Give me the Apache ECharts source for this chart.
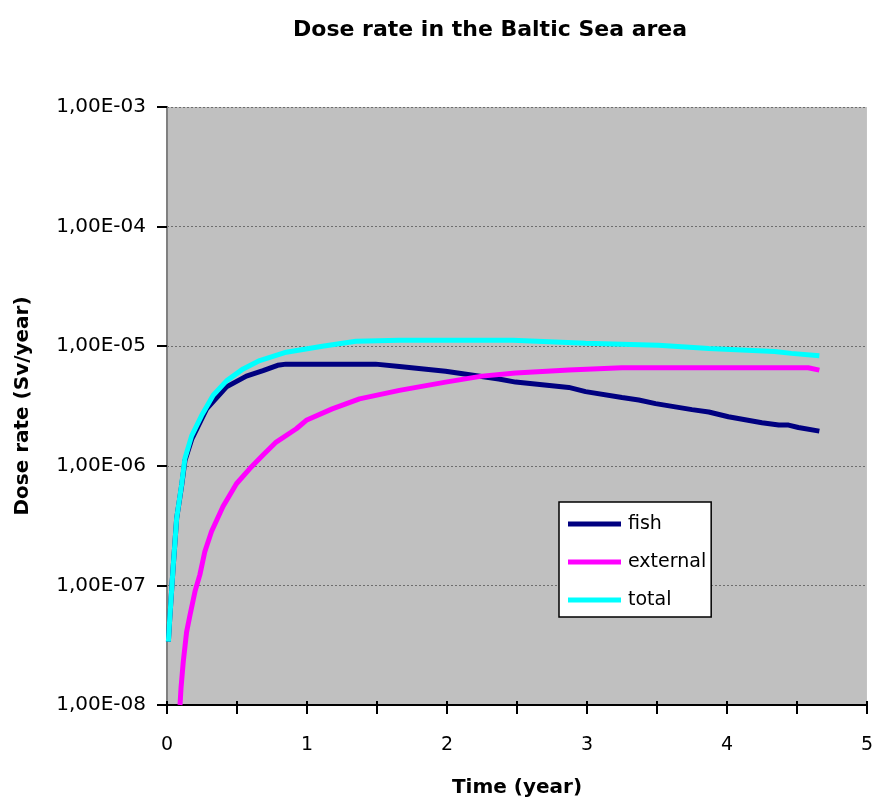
<!DOCTYPE html>
<html>
<head>
<meta charset="utf-8">
<script src="https://cdn.jsdelivr.net/npm/echarts@6/dist/echarts.min.js"></script>
<style>html,body{margin:0;padding:0;background:#fff}#c{width:876px;height:803px}</style>
</head>
<body>
<div id="c"></div>
<script>
var titleText = 'Dose rate in the Baltic Sea area';
var xName = 'Time (year)';
var yName = 'Dose rate (Sv/year)';
var seriesNames = ['fish', 'external', 'total'];

var fishX = [0.01,0.02,0.045,0.069,0.104,0.128,0.176,0.283,0.425,0.567,0.686,0.79,0.85,1.49,1.66,1.99,2.37,2.49,2.87,2.99,3.25,3.37,3.49,3.75,3.87,4.01,4.25,4.37,4.44,4.51,4.66];
var fishY = [3.39e-8,5.37e-8,1.48e-7,3.63e-7,6.76e-7,1.10e-6,1.66e-6,2.99e-6,4.57e-6,5.62e-6,6.24e-6,6.92e-6,7.08e-6,7.08e-6,6.76e-6,6.17e-6,5.31e-6,5.01e-6,4.52e-6,4.17e-6,3.72e-6,3.55e-6,3.31e-6,2.95e-6,2.82e-6,2.57e-6,2.29e-6,2.19e-6,2.19e-6,2.09e-6,1.95e-6];

var extX = [0.093,0.1,0.116,0.14,0.164,0.2,0.235,0.27,0.318,0.40,0.496,0.59,0.686,0.78,0.924,0.995,1.18,1.375,1.66,1.99,2.25,2.49,2.87,3.25,4.58,4.66];
var extY = [1.0e-8,1.38e-8,2.29e-8,4.07e-8,5.62e-8,8.91e-8,1.23e-7,1.91e-7,2.82e-7,4.57e-7,7.08e-7,9.44e-7,1.23e-6,1.58e-6,2.04e-6,2.40e-6,2.99e-6,3.63e-6,4.27e-6,5.01e-6,5.62e-6,5.96e-6,6.31e-6,6.61e-6,6.61e-6,6.31e-6];

var totX = [0.01,0.02,0.045,0.069,0.104,0.128,0.176,0.247,0.33,0.425,0.544,0.662,0.852,1.11,1.35,1.66,2.47,2.99,3.51,3.87,4.34,4.46,4.66];
var totY = [3.39e-8,5.37e-8,1.48e-7,3.63e-7,6.92e-7,1.15e-6,1.78e-6,2.63e-6,3.89e-6,5.13e-6,6.46e-6,7.59e-6,8.91e-6,1.0e-5,1.10e-5,1.12e-5,1.12e-5,1.06e-5,1.02e-5,9.55e-6,9.02e-6,8.71e-6,8.32e-6];

var colors = ['#000080', '#FF00FF', '#00FFFF'];

function pairs(xs, ys) { return xs.map(function (x, i) { return [x, ys[i]]; }); }

var FONT = 'DejaVu Sans';
var chart = echarts.init(document.getElementById('c'), null, {renderer: 'canvas'});

function yLabel(v) {
  var e = Math.round(Math.log10(v));
  var s = e < 0 ? '-' : '+';
  var a = Math.abs(e);
  return '1,00E' + s + (a < 10 ? '0' + a : '' + a);
}

var option = {
  animation: false,
  backgroundColor: '#ffffff',
  title: {
    text: titleText,
    left: 288, top: 14,
    textStyle: {fontFamily: FONT, fontWeight: 'bold', fontSize: 22, color: '#000'}
  },
  legend: {
    data: seriesNames,
    orient: 'vertical',
    left: 559, top: 502,
    backgroundColor: '#ffffff',
    borderColor: '#000000', borderWidth: 1.5,
    padding: [11, 5, 6, 9],
    itemWidth: 53, itemHeight: 5, itemGap: 16,
    icon: 'rect',
    textStyle: {fontFamily: FONT, fontSize: 19, color: '#000', lineHeight: 22, padding: [0, 0, 0, 2]}
  },
  grid: {
    left: 167, right: 7, top: 107, bottom: 96,
    show: true, backgroundColor: '#C0C0C0', borderWidth: 0
  },
  xAxis: [{
    type: 'value', min: 0, max: 5, interval: 0.5,
    name: xName, nameLocation: 'middle', nameGap: 73,
    nameTextStyle: {fontFamily: FONT, fontWeight: 'bold', fontSize: 20, color: '#000'},
    axisLine: {show: true, onZero: false, lineStyle: {color: '#000', width: 2}},
    axisTick: {show: true, length: 9, lineStyle: {color: '#000', width: 2}},
    axisLabel: {
      margin: 31, fontFamily: FONT, fontSize: 19, color: '#000',
      formatter: function (v) { return Math.abs(v - Math.round(v)) < 1e-9 ? String(Math.round(v)) : ''; }
    },
    splitLine: {show: false}
  }, {
    type: 'value', min: 0, max: 5, interval: 0.5, position: 'bottom',
    axisLine: {show: false},
    axisTick: {show: true, inside: true, length: 4, lineStyle: {color: '#000', width: 2}},
    axisLabel: {show: false},
    splitLine: {show: false}
  }],
  yAxis: [{
    type: 'log', logBase: 10, min: 1e-8, max: 1e-3,
    name: yName, nameLocation: 'middle', nameGap: 134, nameRotate: 90,
    nameTextStyle: {fontFamily: FONT, fontWeight: 'bold', fontSize: 20, color: '#000'},
    axisLine: {show: true, lineStyle: {color: '#000', width: 2}},
    axisTick: {show: true, length: 10, lineStyle: {color: '#000', width: 2}},
    axisLabel: {margin: 21, fontFamily: FONT, fontSize: 20, color: '#000', formatter: yLabel},
    splitLine: {show: true, lineStyle: {color: '#6e6e6e', type: [2, 2], width: 1}},
    minorTick: {show: false}
  }, {
    type: 'log', logBase: 10, min: 1e-8, max: 1e-3, position: 'right',
    axisLine: {show: true, lineStyle: {color: '#808080', width: 2}},
    axisTick: {show: false},
    axisLabel: {show: false},
    splitLine: {show: false}
  }],
  series: [
    {name: seriesNames[0], type: 'line', data: pairs(fishX, fishY), showSymbol: false, symbol: 'none',
     lineStyle: {color: colors[0], width: 5}, itemStyle: {color: colors[0]}, z: 2},
    {name: seriesNames[1], type: 'line', data: pairs(extX, extY), showSymbol: false, symbol: 'none',
     lineStyle: {color: colors[1], width: 5}, itemStyle: {color: colors[1]}, z: 3},
    {name: seriesNames[2], type: 'line', data: pairs(totX, totY), showSymbol: false, symbol: 'none',
     lineStyle: {color: colors[2], width: 5}, itemStyle: {color: colors[2]}, z: 4}
  ]
};
chart.setOption(option);
</script>
</body>
</html>
